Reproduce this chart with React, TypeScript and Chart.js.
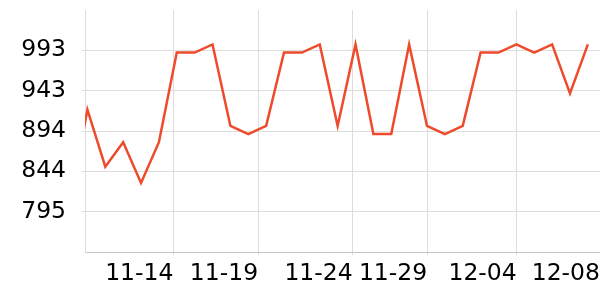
import React, { useEffect, useRef } from 'react';
import { Chart, registerables } from 'chart.js';

Chart.register(...registerables);

// Timestamps of each sample (MM-DD HH:mm) and the value measured then
const pointDates = [
  '11-08 12:00', '11-09 01:50', '11-10 12:00', '11-11 12:00', '11-12 12:00',
  '11-13 12:00', '11-14 02:45', '11-15 12:00', '11-16 12:00', '11-17 12:00',
  '11-18 12:00', '11-19 09:50', '11-20 12:00', '11-21 12:00', '11-22 12:00',
  '11-23 12:00', '11-24 02:15', '11-25 12:00', '11-26 12:00', '11-27 12:00',
  '11-28 23:50', '11-29 16:20', '11-30 12:00', '12-01 12:00', '12-02 12:00',
  '12-03 23:45', '12-04 12:15', '12-05 12:00', '12-06 18:20', '12-07 12:00',
];
const values = [
  800, 920, 850, 880, 830,
  880, 990, 990, 1000, 900,
  890, 900, 990, 990, 1000,
  900, 1000, 890, 890, 1000,
  900, 890, 900, 990, 990,
  1000, 990, 1000, 940, 1000,
];

// x axis: visible date range and tick dates
const xRangeStart = '11-09 00:00';
const xRangeEnd = '12-08 00:00';
const xTickDates = ['11-14', '11-19', '11-24', '11-29', '12-04', '12-08'];

// y axis: range and labelled ticks
const yMin = 745.25;
const yMax = 1042.25;
const yTicks = [794.75, 844.25, 893.75, 943.25, 992.75];

const LINE_COLOR = '#EE4A2C';
const GRID_COLOR = '#dddddd';
const BORDER_COLOR = '#c4c4c4';
const FONT = 'DejaVu Sans';
const FONT_SIZE = 23.5;

function toDays(s: string): number {
  const [md, hm = '00:00'] = s.split(' ');
  const [m, d] = md.split('-').map(Number);
  const [h, mi] = hm.split(':').map(Number);
  return Date.UTC(2023, m - 1, d, h, mi) / 86400000;
}

const times = pointDates.map(toDays);

// time-series style: samples are equally spaced, dates are interpolated between them
function posOf(t: number): number {
  const n = times.length;
  let i = 0;
  if (t <= times[0]) i = 0;
  else if (t >= times[n - 1]) i = n - 2;
  else {
    while (i < n - 2 && times[i + 1] < t) i++;
  }
  return i + (t - times[i]) / (times[i + 1] - times[i]);
}

const noEdgePadding = (scale: any) => {
  scale.paddingLeft = 0;
  scale.paddingRight = 0;
  scale.paddingTop = 0;
  scale.paddingBottom = 0;
};

export default function App() {
  const ref = useRef<HTMLCanvasElement | null>(null);

  useEffect(() => {
    if (!ref.current) return;
    const chart = new Chart(ref.current, {
      type: 'line',
      data: {
        datasets: [
          {
            data: values.map((v, i) => ({ x: i, y: v })),
            borderColor: LINE_COLOR,
            backgroundColor: LINE_COLOR,
            borderWidth: 2.5,
            pointRadius: 0,
            tension: 0,
            fill: false,
          },
        ],
      },
      options: {
        animation: false,
        responsive: false,
        layout: { padding: { left: 5.2, top: 10, right: 0, bottom: 6.8 } },
        plugins: { legend: { display: false }, tooltip: { enabled: false } },
        scales: {
          x: {
            type: 'linear',
            min: posOf(toDays(xRangeStart)),
            max: posOf(toDays(xRangeEnd)),
            afterBuildTicks: (scale: any) => {
              scale.ticks = xTickDates.map((d) => ({ value: posOf(toDays(d)) }));
            },
            afterFit: noEdgePadding,
            ticks: {
              autoSkip: false,
              maxRotation: 0,
              minRotation: 0,
              align: 'end',
              padding: 5,
              color: '#000',
              font: { family: FONT, size: FONT_SIZE },
              callback: (_v: any, i: number) => xTickDates[i],
            },
            grid: { color: GRID_COLOR, tickLength: 3 },
            border: { color: BORDER_COLOR },
          },
          y: {
            type: 'linear',
            min: yMin,
            max: yMax,
            afterBuildTicks: (scale: any) => {
              scale.ticks = yTicks.map((v) => ({ value: v }));
            },
            afterFit: noEdgePadding,
            ticks: {
              padding: 16,
              color: '#000',
              font: { family: FONT, size: FONT_SIZE },
              callback: (v: any) => String(Math.round(Number(v))),
            },
            grid: { tickLength: 3, color: GRID_COLOR },
            border: { color: GRID_COLOR },
          },
        },
      },
    });
    return () => chart.destroy();
  }, []);

  return (
    <div style={{ position: 'fixed', left: 0, top: 0, width: 600, height: 300, background: '#fff' }}>
      <canvas ref={ref} width={600} height={300} style={{ display: 'block' }} />
    </div>
  );
}
